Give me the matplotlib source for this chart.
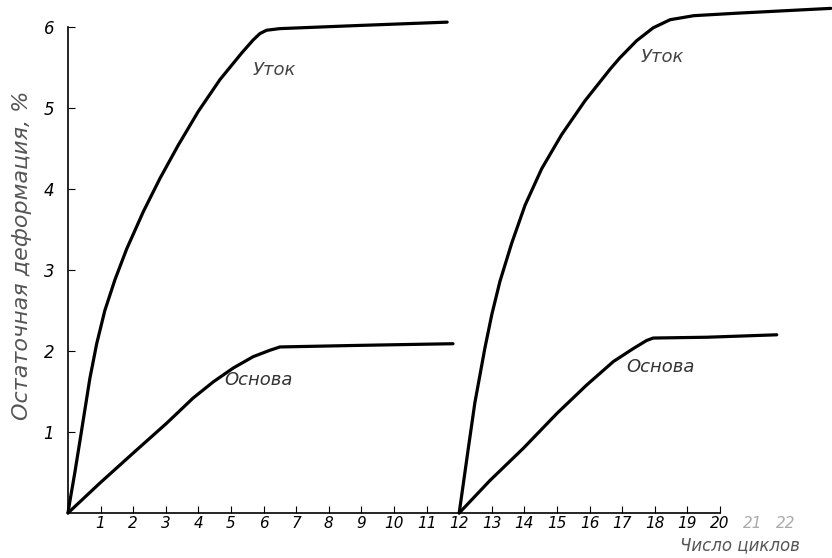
import matplotlib.pyplot as plt
import numpy as np

#### data ####
# first test (cycles 0..12)
weft1_x = [0, 0.06, 0.21, 0.37, 0.52, 0.67, 0.88, 1.13, 1.44, 1.80, 2.31, 2.82, 3.38, 4.00, 4.66,
           5.33, 5.68, 5.89, 6.09, 6.50, 9.0, 11.63]
weft1_y = [0, 0.15, 0.50, 0.90, 1.28, 1.66, 2.09, 2.50, 2.88, 3.26, 3.72, 4.13, 4.54, 4.96, 5.35,
           5.68, 5.84, 5.92, 5.96, 5.98, 6.02, 6.06]
warp1_x = [0, 0.98, 2.00, 3.03, 3.84, 4.46, 5.07, 5.68, 6.20, 6.50, 9.0, 11.81]
warp1_y = [0, 0.37, 0.74, 1.11, 1.42, 1.62, 1.79, 1.93, 2.01, 2.05, 2.07, 2.09]
# second test (cycles from 12)
weft2_x = [12.0, 12.28, 12.48, 12.79, 13.00, 13.25, 13.61, 14.02, 14.53, 15.14, 15.86,
           16.63, 16.93, 17.44, 17.95, 18.47, 19.2, 20.5, 23.4]
weft2_y = [0, 0.80, 1.36, 2.04, 2.45, 2.86, 3.33, 3.80, 4.25, 4.67, 5.09,
           5.48, 5.62, 5.83, 5.99, 6.09, 6.14, 6.17, 6.23]
warp2_x = [12.0, 12.94, 13.97, 15.00, 15.91, 16.73, 17.34, 17.75, 17.95, 19.6, 21.74]
warp2_y = [0, 0.40, 0.80, 1.23, 1.58, 1.87, 2.03, 2.13, 2.16, 2.17, 2.20]

xticks = list(range(1, 23))
yticks = [1, 2, 3, 4, 5, 6]

#### plot ####
fig = plt.figure(figsize=(8.32, 5.58), dpi=100)
ax = fig.add_axes([68/832, 45/558, 1 - 68/832, 513/558])

for xs, ys in [(weft1_x, weft1_y), (warp1_x, warp1_y), (weft2_x, weft2_y), (warp2_x, warp2_y)]:
    ax.plot(xs, ys, color='black', lw=2.3, solid_capstyle='round', solid_joinstyle='round', clip_on=False)

ax.set_xlim(0, 764/32.6)
ax.set_ylim(0, 513/81)

for s in ['top', 'right']:
    ax.spines[s].set_visible(False)
ax.spines['left'].set_bounds(0, 6)
ax.spines['bottom'].set_bounds(0, 20)
ax.spines['left'].set_linewidth(1.2)
ax.spines['bottom'].set_linewidth(1.2)

ax.set_xticks(xticks)
ax.set_xticklabels([str(t) for t in xticks], fontstyle='italic', fontsize=11)
ax.set_yticks(yticks)
ax.set_yticklabels([str(t) for t in yticks], fontstyle='italic', fontsize=12)
ax.tick_params(axis='both', direction='in', length=5, width=0.8)
ax.tick_params(axis='x', pad=2)
ax.tick_params(axis='y', pad=10)
for t, lab in zip(ax.xaxis.get_major_ticks(), ax.get_xticklabels()):
    if t.get_loc() > 20:
        t.tick1line.set_visible(False)
        lab.set_color('#aaaaaa')

# curve names
ax.text(6.32, 5.47, 'Уток', fontstyle='italic', fontsize=13, color='#444444', ha='center', va='center')
ax.text(18.22, 5.63, 'Уток', fontstyle='italic', fontsize=13, color='#444444', ha='center', va='center')
ax.text(5.83, 1.64, 'Основа', fontstyle='italic', fontsize=13, color='#333333', ha='center', va='center')
ax.text(18.16, 1.80, 'Основа', fontstyle='italic', fontsize=13, color='#333333', ha='center', va='center')

# axis titles
fig.text(22/832, 1 - 255/558, 'Остаточная деформация, %', rotation=90, fontstyle='italic',
         fontsize=16, color='#555555', ha='center', va='center')
fig.text(740/832, 1 - 545/558, 'Число циклов', fontstyle='italic', fontsize=12,
         color='#555555', ha='center', va='center')

fig.savefig('out.png', dpi=100)
